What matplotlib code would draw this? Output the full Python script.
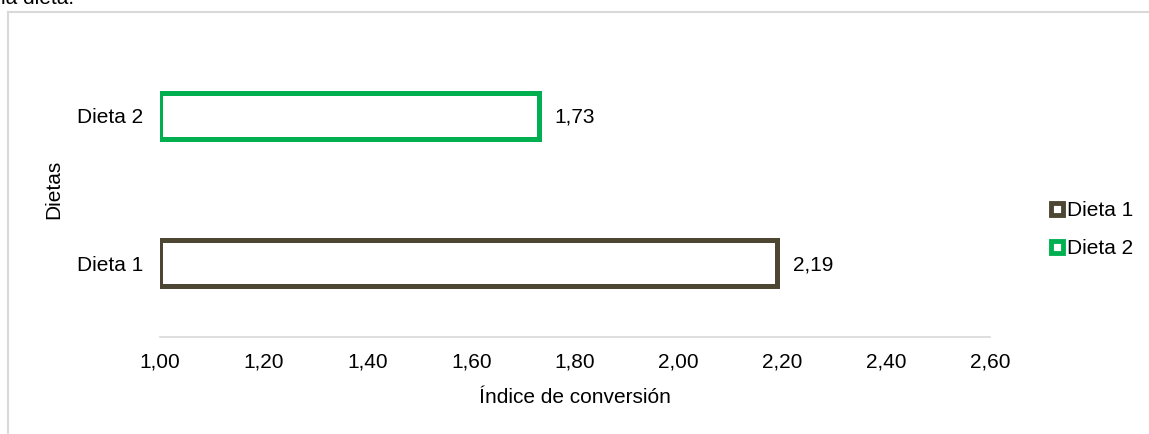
import matplotlib
matplotlib.use("Agg")
import matplotlib.pyplot as plt
from matplotlib.lines import Line2D

plt.rcParams['font.family'] = ['Liberation Sans', 'DejaVu Sans']

categories = ["Dieta 1", "Dieta 2"]
values = [2.19, 1.73]
colors = ["#4D4633", "#00B050"]
xticks = [1.00, 1.20, 1.40, 1.60, 1.80, 2.00, 2.20, 2.40, 2.60]
xtick_labels = ["1,00", "1,20", "1,40", "1,60", "1,80", "2,00", "2,20", "2,40", "2,60"]
value_labels = ["2,19", "1,73"]
xlabel = "Índice de conversión"
ylabel = "Dietas"
title_fragment = "la dieta."

W, H = 1149, 434
fig = plt.figure(figsize=(W / 100, H / 100), dpi=100)
ax = fig.add_axes([160 / W, (H - 337) / H, (990 - 160) / W, (337 - 42) / H])

FS = 15
base = 1.0
ypos = list(range(len(categories)))
ax.barh(ypos, [v - base for v in values], left=base, height=0.31,
        facecolor="white", edgecolor=colors, linewidth=3.6)
for y, v, lab in zip(ypos, values, value_labels):
    ax.annotate(lab, (v, y), xytext=(11, -1), textcoords="offset points",
                ha="left", va="center", fontsize=FS, color="#000000")

ax.set_xlim(1.0, 2.6)
ax.set_ylim(-0.5, 1.5)
ax.set_xticks(xticks)
ax.set_xticklabels(xtick_labels, fontsize=FS)
ax.set_yticks(ypos)
ax.set_yticklabels(categories, fontsize=FS)
ax.tick_params(axis="x", length=0, pad=11)
ax.tick_params(axis="y", length=0, pad=12)
for s in ["top", "right", "left"]:
    ax.spines[s].set_visible(False)
ax.spines["bottom"].set_color("#D9D9D9")
ax.spines["bottom"].set_linewidth(1.2)
ax.set_xlabel(xlabel, fontsize=FS, labelpad=12)
ax.set_ylabel(ylabel, fontsize=FS, labelpad=10)

handles = [Line2D([], [], linestyle="none", marker="s", markersize=8.5,
                  markerfacecolor="white", markeredgecolor=c, markeredgewidth=3.5)
           for c in colors]
fig.legend(handles, categories, loc="upper left", bbox_to_anchor=(1040 / W, 1 - 193 / H),
           frameon=False, fontsize=FS, handlelength=0.8, handletextpad=0.1,
           labelspacing=0.92, borderaxespad=0)

# chart-area border (partially cropped)
fig.add_artist(Line2D([8 / W, 1.0], [1 - 11.5 / H, 1 - 11.5 / H], transform=fig.transFigure,
                      color="#D9D9D9", linewidth=1.5))
fig.add_artist(Line2D([8 / W, 8 / W], [1 - 11.5 / H, 0.0], transform=fig.transFigure,
                      color="#D9D9D9", linewidth=1.5))
fig.text(1 / W, 1 - 4 / H, title_fragment, fontsize=FS, ha="left", va="baseline")

fig.savefig("out.png", dpi=100, facecolor="white")
